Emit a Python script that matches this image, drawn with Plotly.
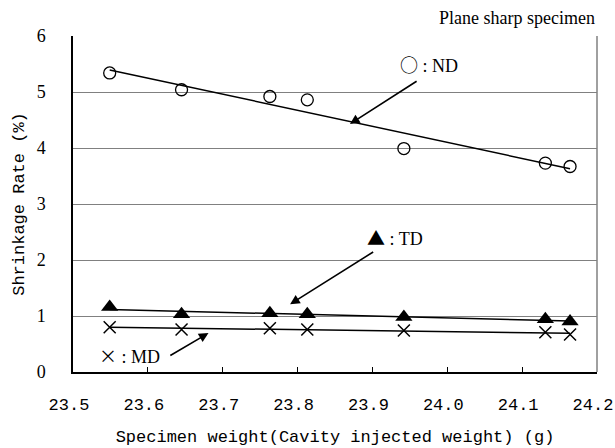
import numpy as np
import plotly.graph_objects as go

weight = [23.549, 23.645, 23.763, 23.813, 23.942, 24.131, 24.164]
nd = [5.34, 5.04, 4.92, 4.86, 3.99, 3.73, 3.67]
td = [1.16, 1.03, 1.05, 1.03, 0.98, 0.94, 0.90]
md = [0.80, 0.76, 0.78, 0.76, 0.74, 0.71, 0.67]

x_ticks = [23.5, 23.6, 23.7, 23.8, 23.9, 24.0, 24.1, 24.2]
x_labels = ["23.5", "23.6", "23.7", "23.8", "23.9", "24.0", "24.1", "24.2"]
y_ticks = [0, 1, 2, 3, 4, 5, 6]

MONO = "Liberation Mono"
SERIF = "Liberation Serif"

fig = go.Figure()

xs = np.array(weight)
xfit = np.array([xs.min(), xs.max()])
for ys in (nd, td, md):
    k, b = np.polyfit(xs, np.array(ys), 1)
    fig.add_trace(go.Scatter(x=xfit, y=k * xfit + b, mode="lines",
                             line=dict(color="black", width=1.5),
                             showlegend=False, hoverinfo="skip"))

fig.add_trace(go.Scatter(x=weight, y=nd, mode="markers", showlegend=False,
                         marker=dict(symbol="circle-open", size=12, color="black",
                                     line=dict(width=1.3, color="black"))))
fig.add_trace(go.Scatter(x=weight, y=td, mode="markers", showlegend=False,
                         marker=dict(symbol="triangle-up", size=15, color="black",
                                     line=dict(width=0))))
fig.add_trace(go.Scatter(x=weight, y=md, mode="markers", showlegend=False,
                         marker=dict(symbol="x-thin", size=12, color="black",
                                     line=dict(width=1.5, color="black"))))

# legend-like labels with arrows
labels = [
    ("\u25CB", " : ND", 23.976, 5.50),
    ("\u25B2", " : TD", 23.930, 2.41),
    ("\u00D7", " : MD", 23.576, 0.31),
]
for sym, txt, lx, ly in labels:
    fig.add_annotation(
        x=lx, y=ly, xref="x", yref="y", showarrow=False,
        text=f'<span style="font-family:\'Noto Sans CJK JP\'">{sym}</span>{txt}',
        font=dict(family=SERIF, size=18, color="black"))

arrows = [
    (23.870, 4.43, 23.961, 5.21),
    (23.790, 1.21, 23.903, 2.16),
    (23.681, 0.695, 23.628, 0.28),
]
for hx, hy, tx, ty in arrows:
    fig.add_annotation(x=hx, y=hy, ax=tx, ay=ty, xref="x", yref="y",
                       axref="x", ayref="y", text="", showarrow=True,
                       arrowhead=2, arrowsize=1.2, arrowwidth=1.6,
                       arrowcolor="black")

fig.add_annotation(x=1.0, y=1.0526, xref="paper", yref="paper",
                   xanchor="right", yanchor="middle",
                   text="Plane sharp specimen", showarrow=False,
                   font=dict(family=SERIF, size=18, color="black"))

# right frame line
fig.add_shape(type="line", xref="paper", yref="paper", x0=1, x1=1, y0=0, y1=1,
              line=dict(color="#808080", width=1.5))

fig.update_layout(
    width=615, height=448,
    margin=dict(l=73, r=18, t=36, b=76),
    plot_bgcolor="white", paper_bgcolor="white",
    font=dict(family=MONO, size=17, color="black"),
)
fig.update_xaxes(range=[23.5, 24.2], tickvals=x_ticks, ticktext=x_labels,
                 showgrid=False, zeroline=False, showline=True,
                 linecolor="black", linewidth=1.5, ticks="inside",
                 ticklen=5, tickcolor="black", ticklabelstandoff=16,
                 ticklabeloverflow="allow", ticklabelshift=-4,
                 automargin=False,
                 tickfont=dict(family=MONO, size=17),
                 title=dict(text="Specimen weight(Cavity injected weight) (g)",
                            font=dict(family=MONO, size=17), standoff=16))
fig.update_yaxes(range=[0, 6], tickvals=y_ticks, showgrid=True,
                 gridcolor="#808080", gridwidth=1.3, zeroline=False,
                 showline=True, linecolor="black", linewidth=1.5,
                 ticks="", ticklabelstandoff=22, automargin=False,
                 tickfont=dict(family=SERIF, size=18),
                 title=dict(text="Shrinkage Rate (%)",
                            font=dict(family=MONO, size=17), standoff=8))

fig.write_html("out.html")
